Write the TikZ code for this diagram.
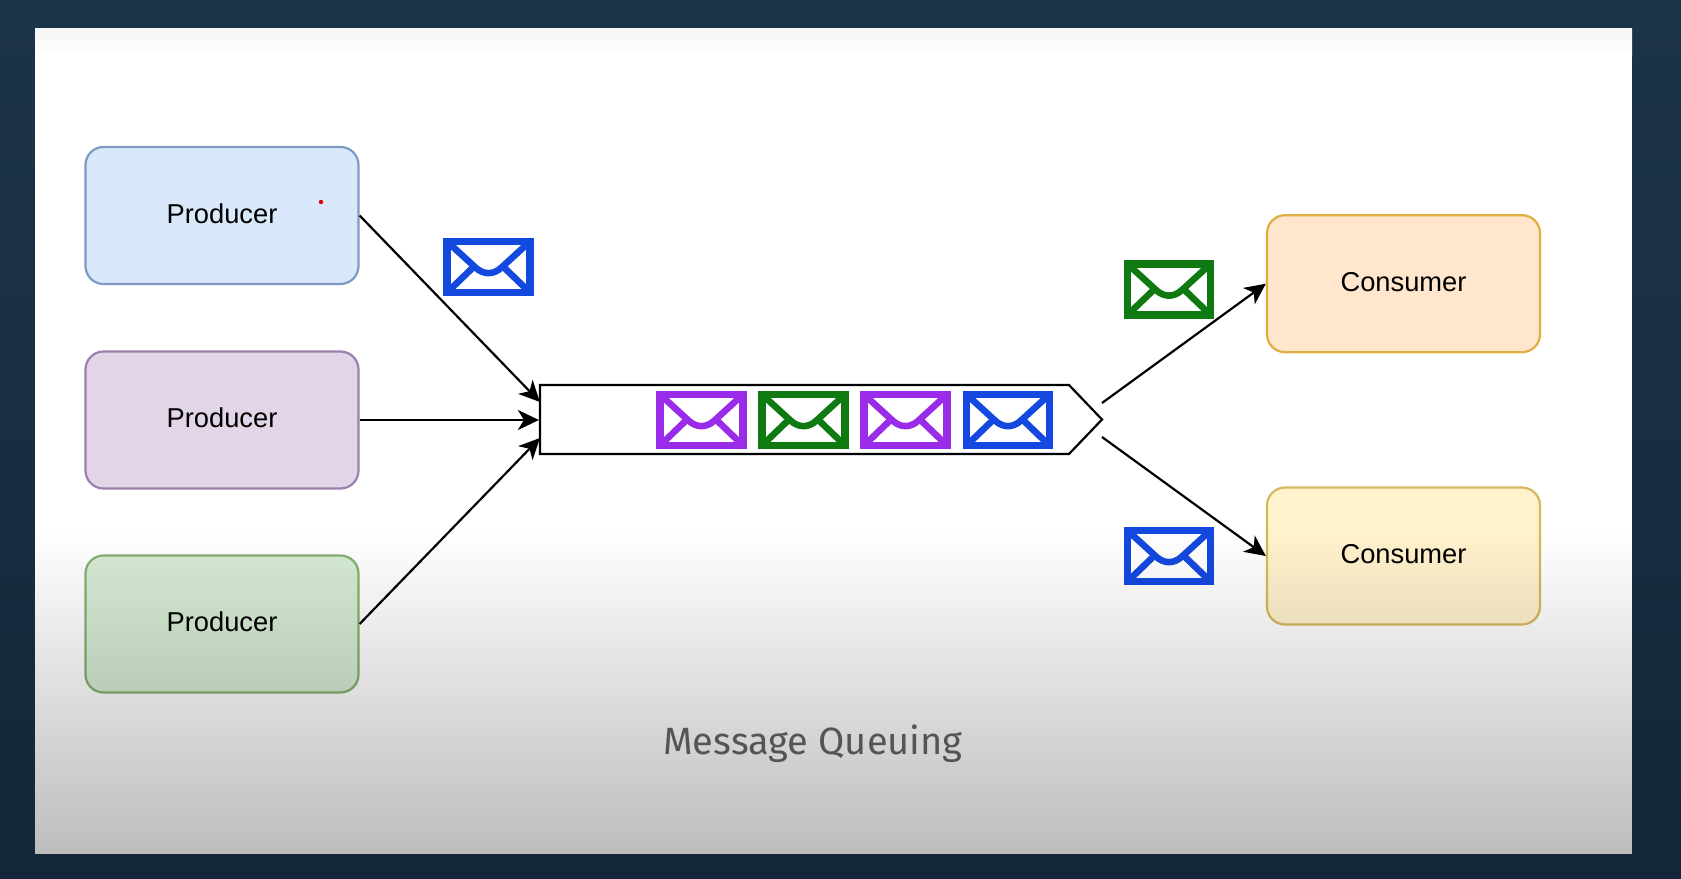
\documentclass[tikz,border=0pt]{standalone}
\usepackage{fontspec}
\setmainfont{Liberation Sans}
\newfontfamily\capfont{Fira Sans}
\usetikzlibrary{arrows.meta,shapes.symbols,fadings}
\definecolor{navyTop}{HTML}{1C344A}
\definecolor{navyBot}{HTML}{14273A}
\definecolor{envBlue}{HTML}{1449E0}
\definecolor{envPurple}{HTML}{9A2BE8}
\definecolor{envGreen}{HTML}{0F7A12}
\definecolor{fBlue}{HTML}{DAE8FC}\definecolor{sBlue}{HTML}{7F9BC4}
\definecolor{fPurple}{HTML}{E1D5E7}\definecolor{sPurple}{HTML}{9C80AC}
\definecolor{fGreen}{HTML}{D7ECD4}\definecolor{sGreen}{HTML}{86B070}
\definecolor{fOrange}{HTML}{FFE6CC}\definecolor{sOrange}{HTML}{E0AE40}
\definecolor{fYellow}{HTML}{FFF2CC}\definecolor{sYellow}{HTML}{D6B95E}
\definecolor{capGray}{HTML}{666666}
\tikzfading[name=panelfade, top color=transparent!100, bottom color=transparent!74]
\tikzset{
  actor/.style 2 args={fill=#1, draw=#2, line width=2.2pt, rounded corners=18pt, minimum width=273pt, minimum height=137pt, inner sep=0pt, font=\fontsize{27.3}{27.3}\selectfont, text=black, text depth=0pt, text height=15pt},
  link/.style={draw=black, line width=2.2pt, -{Stealth[length=21pt,width=20pt,inset=6pt]}},
  queuebox/.style={signal, signal to=east, signal from=nowhere, signal pointer angle=92.5, draw=black, line width=2.2pt, fill=white, minimum width=562pt, minimum height=69pt, inner sep=0pt},
  pics/envelope/.style={code={
    \draw[draw=#1, fill=white, line width=7.4pt, line join=miter] (-41.5,-25.5) rectangle (41.5,25.5);
    \draw[draw=#1, line width=6.6pt, line cap=butt, line join=round]
      (-42,-26) -- (-13,0.5) .. controls (-5,8) and (5,8) .. (13,0.5) -- (42,-26);
    \draw[draw=#1, line width=6.6pt] (-42,26) -- (-15,0);
    \draw[draw=#1, line width=6.6pt] (42,26) -- (15,0);
  }}
}
\begin{document}
\begin{tikzpicture}[x=1pt,y=-1pt]
\useasboundingbox (0,0) rectangle (1681,878);
\shade[top color=navyTop, bottom color=navyBot] (0,0) rectangle (1681,878);
\fill[white] (35,28) rectangle (1632,854);
\shade[top color=black!4, bottom color=white] (35,28) rectangle (1632,56);

\node[actor={fBlue}{sBlue}] (p1) at (222,215.5) {Producer};
\node[actor={fPurple}{sPurple}] (p2) at (222,420) {Producer};
\node[actor={fGreen}{sGreen}] (p3) at (222,624) {Producer};
\node[actor={fOrange}{sOrange}] (c1) at (1403.5,283.7) {Consumer};
\node[actor={fYellow}{sYellow}] (c2) at (1403.5,556) {Consumer};

\fill[red!85!black] (321,202) circle (2.2pt);

\node[queuebox] (q) at (804.5,419.5) {};

\coordinate (qin1) at (540,402);
\coordinate (qin3) at (540,438);
\coordinate (qout1) at (1102,403);
\coordinate (qout2) at (1102,437);

\draw[link] (p1.east) -- (qin1);
\draw[link] (p2.east) -- (p2.east -| q.west);
\draw[link] (p3.east) -- (qin3);
\draw[link] (qout1) -- (c1.west);
\draw[link] (qout2) -- (c2.west);

\pic (e1) at (488.5,267) {envelope=envBlue};
\pic (e2) at (701.5,420) {envelope=envPurple};
\pic (e3) at (803.5,420) {envelope=envGreen};
\pic (e4) at (905.5,420) {envelope=envPurple};
\pic (e5) at (1008,420) {envelope=envBlue};
\pic (e6) at (1169,289.5) {envelope=envGreen};
\pic (e7) at (1169,556) {envelope=envBlue};

\node[font=\capfont\fontsize{38}{38}\selectfont, text=capGray, inner sep=0pt] (title) at (813,744) {Message Queuing};

\fill[black, path fading=panelfade] (35,530) rectangle (1632,854);
\end{tikzpicture}
\end{document}
